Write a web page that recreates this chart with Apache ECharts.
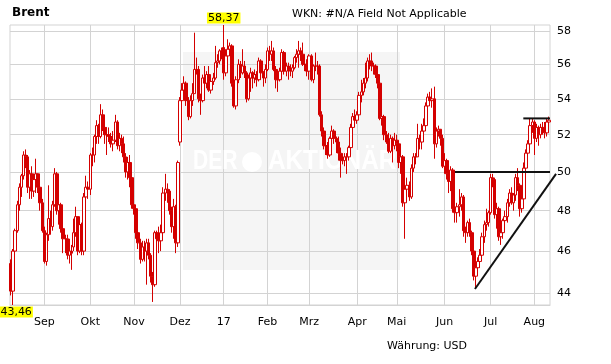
<!DOCTYPE html>
<html>
<head>
<meta charset="utf-8">
<script src="https://cdn.jsdelivr.net/npm/echarts@6/dist/echarts.min.js"></script>
<style>
html,body{margin:0;padding:0;background:#fff;}
#chart{width:611px;height:364px;}
</style>
</head>
<body>
<div id="chart"></div>
<script>
// ---- Data (Brent, daily OHLC rows: [open, close, low, high]) ----
const aug16 = [
[45.4,44.1,43.9,45.6],[44.1,46.0,43.46,46.1],[46.0,47.0,45.9,47.1],[47.0,48.3,46.9,48.5],
[48.3,49.2,48.0,49.4],[49.2,49.8,48.7,49.9],[49.8,50.9,49.6,51.1],[50.9,50.8,50.2,51.2],
[50.8,49.2,48.9,50.9],[49.2,49.9,48.6,50.1],[49.9,49.0,48.6,50.3],[49.0,49.6,48.7,49.9],
[49.6,49.9,48.9,50.7],[49.9,49.2,48.9,49.9],[49.2,48.4,48.0,49.3],[48.4,47.0,46.9,48.6]];
const sep16 = [
[47.0,45.5,45.4,47.2],[45.5,46.8,45.3,46.9],[46.8,47.6,46.5,49.3],[47.6,47.3,46.8,48.0],
[47.2,48.3,47.0,48.5],[48.3,49.9,48.2,50.2],[49.9,48.0,47.8,50.0],[48.0,48.3,47.3,48.6],
[48.3,47.1,46.9,48.4],[47.1,46.6,45.9,47.3],[46.6,46.6,45.9,46.8],[46.6,45.8,45.6,46.8],
[45.8,46.0,45.4,46.6],[46.0,45.9,45.1,46.3],[46.2,46.9,46.0,47.6],[46.9,47.7,46.7,48.2],
[47.7,46.0,45.8,47.7],[46.0,47.3,45.9,47.6],[47.3,46.0,45.8,47.4],[46.0,48.7,45.8,48.9],
[48.7,49.2,48.3,49.8],[49.2,49.1,48.6,49.5]];
const okt16 = [
[49.1,50.9,48.8,51.0],[50.9,50.9,50.3,51.3],[50.9,51.9,50.5,52.0],[51.9,52.5,51.5,52.8],
[52.5,51.9,51.5,52.6],[51.9,53.1,51.8,53.7],[53.1,52.4,52.2,53.4],[52.4,52.0,51.5,53.0],
[52.0,52.0,50.9,52.4],[52.0,51.9,51.6,52.4],[51.9,51.5,51.3,52.1],[51.5,51.7,51.1,52.2],
[51.7,52.7,51.6,53.1],[52.7,51.4,51.2,52.8],[51.4,51.8,51.1,52.1],[51.8,51.5,51.0,52.0],
[51.5,50.8,50.5,51.9],[50.8,50.0,49.7,51.0],[50.0,50.5,49.6,50.8],[50.5,49.7,49.2,50.9],
[49.7,48.3,48.1,49.9]];
const nov16 = [
[48.3,48.1,47.8,48.8],[48.1,46.9,46.6,48.2],[46.9,46.4,46.1,47.2],[46.4,45.6,45.4,46.6],
[45.6,46.2,45.5,46.5],[46.2,46.0,45.5,46.5],[46.0,46.4,44.4,46.6],[46.4,45.8,45.6,46.6],
[45.8,44.8,44.5,45.9],[44.8,44.4,43.6,45.0],[44.4,46.9,44.3,47.0],[46.9,46.6,46.2,47.0],
[46.6,46.5,45.9,47.2],[46.5,46.9,46.0,47.3],[46.9,48.9,46.8,49.2],[48.9,49.1,48.5,49.9],
[49.1,49.0,48.4,49.4],[49.0,48.0,47.8,49.1],[48.0,47.2,46.9,48.2],[47.2,48.2,46.6,48.6],
[48.2,46.4,45.9,48.3],[46.4,50.5,46.2,50.6]];
const dez16 = [
[51.6,53.9,51.4,54.1],[53.9,54.5,53.3,54.9],[54.5,54.9,54.2,55.3],[54.9,53.9,53.6,55.0],
[53.9,53.0,52.8,54.1],[53.0,53.9,52.9,54.2],[53.9,54.3,53.6,54.9],[54.3,55.7,54.3,57.9],
[55.7,55.7,55.4,56.4],[55.7,54.0,53.8,55.9],[54.0,53.9,53.1,54.3],[53.9,55.2,53.8,55.4],
[55.2,54.9,54.6,55.9],[54.9,55.4,54.6,55.6],[55.4,54.5,54.4,55.9],[54.5,55.0,54.3,55.3],
[55.0,55.2,54.8,55.5],[55.2,56.1,55.1,57.1],[56.1,56.2,55.8,56.6],[56.2,56.8,56.0,56.9],
[56.8,56.8,56.3,57.0]];
const jan17 = [
[57.0,55.5,55.1,58.37],[55.5,56.5,55.3,56.9],[56.5,56.9,56.2,57.5],[56.9,57.1,56.5,57.3],
[57.1,54.9,54.7,57.2],[54.9,53.6,53.5,55.2],[53.6,55.1,53.4,55.3],[55.1,56.0,54.9,56.3],
[56.0,55.5,55.2,56.2],[55.5,55.9,55.4,56.9],[55.9,55.5,55.2,56.2],[55.5,54.0,53.8,55.6],
[54.0,55.2,53.9,55.4],[55.2,55.5,54.4,55.8],[55.5,55.2,54.6,55.6],[55.2,55.4,54.9,55.7],
[55.4,55.1,54.7,55.6],[55.1,56.2,55.0,56.4],[56.2,55.5,55.1,56.3],[55.5,55.2,54.7,55.6],
[55.2,55.7,54.9,56.0]];
const feb17 = [
[55.7,56.8,55.6,57.0],[56.8,56.6,56.2,57.1],[56.6,56.8,56.2,57.4],[56.8,55.7,55.6,57.0],
[55.7,55.1,54.6,55.9],[55.1,55.1,54.4,55.4],[55.1,55.6,55.0,55.8],[55.6,56.7,55.5,56.9],
[56.7,55.6,55.4,56.8],[55.6,55.9,55.3,56.1],[55.9,55.7,55.1,56.1],[55.7,55.6,55.3,56.0],
[55.6,55.8,55.2,56.0],[55.8,56.4,55.7,56.5],[56.4,56.6,56.1,56.9],[56.6,56.8,55.8,57.4],
[56.8,56.6,56.2,57.0],[56.6,56.0,55.9,57.3],[56.0,56.0,55.6,56.5],[56.0,55.6,55.3,56.3]];
const mrz17 = [
[55.6,56.5,55.1,56.6],[56.5,55.1,55.0,56.6],[55.1,55.9,54.9,56.0],[55.9,55.9,55.6,56.7],
[55.9,55.9,55.4,56.2],[55.9,53.1,53.0,56.0],[53.1,52.2,51.9,53.3],[52.2,51.4,51.2,52.4],
[51.4,51.4,50.9,51.9],[51.4,50.9,50.7,51.6],[50.9,51.8,50.8,51.9],[51.8,52.2,51.6,52.5],
[52.2,51.8,51.5,52.3],[51.8,51.6,51.0,51.9],[51.6,51.0,50.6,51.9],[51.0,50.6,49.7,51.3],
[50.6,50.6,50.4,51.0],[50.6,50.8,50.3,51.0],[50.8,50.8,49.9,51.0],[50.8,51.3,50.6,51.4],
[51.3,52.4,51.2,52.6],[52.4,53.0,52.2,53.2],[53.0,52.8,52.5,53.4]];
const apr17 = [
[52.8,53.1,52.6,53.3],[53.1,54.2,53.0,54.4],[54.2,54.4,53.8,55.1],[54.4,54.9,54.2,55.2],
[54.9,55.2,54.6,56.1],[55.2,56.2,55.0,56.4],[56.2,56.2,55.7,56.6],[56.2,55.9,55.6,56.7],
[55.9,55.9,55.4,56.1],[55.9,55.4,55.2,56.0],[55.4,54.9,54.6,55.6],[54.9,52.9,52.8,55.1],
[52.9,53.0,52.5,53.3],[53.0,52.0,51.7,53.1],[52.0,51.6,51.5,52.2],[51.6,51.1,51.0,52.1],
[51.1,51.8,51.0,52.0],[51.8,51.4,50.5,51.9],[51.4,51.7,51.2,52.1]];
const mai17 = [
[51.7,51.5,51.1,52.0],[51.5,50.5,50.2,51.6],[50.5,50.8,49.9,51.0],[50.8,48.4,48.2,50.9],
[48.4,49.1,46.6,49.2],[49.1,49.3,48.6,49.7],[49.3,48.7,48.5,49.5],[48.7,50.2,48.6,50.4],
[50.2,50.8,50.0,51.0],[50.8,50.8,50.4,51.0],[50.8,51.8,50.8,52.6],[51.8,51.6,51.2,52.0],
[51.6,52.2,51.2,52.6],[52.2,52.5,51.7,52.9],[52.5,53.6,52.5,53.8],[53.6,54.1,53.5,54.3],
[54.1,53.9,53.6,54.4],[53.9,54.0,53.5,54.6],[54.0,51.5,50.7,54.7],[51.5,52.2,51.3,52.4],
[52.2,52.3,51.9,52.5],[52.3,51.8,51.4,52.3],[51.8,50.3,50.2,52.0]];
const jun17 = [
[50.3,50.6,49.9,51.0],[50.6,49.9,49.6,50.7],[49.9,49.5,48.9,50.2],[49.5,50.1,49.0,50.3],
[50.1,48.1,47.9,50.2],[48.1,47.9,47.4,48.3],[47.9,48.2,47.4,48.4],[48.2,48.3,47.7,49.1],
[48.3,48.7,48.0,48.9],[48.7,47.0,46.7,48.8],[47.0,46.9,46.4,47.2],[46.9,47.4,46.7,47.5],
[47.4,46.9,46.7,47.6],[46.9,46.0,45.8,47.0],[46.0,44.8,44.6,46.2],[44.8,45.2,44.2,45.5],
[45.2,45.5,44.9,45.7],[45.5,45.8,45.2,46.1],[45.8,46.7,45.6,46.9],[46.7,47.3,46.4,47.5],
[47.3,47.4,47.0,48.1],[47.4,47.9,47.2,48.0]];
const jul17 = [
[47.9,49.7,47.8,49.9],[49.7,49.6,49.2,49.9],[49.6,47.8,47.6,49.7],[47.8,48.1,47.1,48.4],
[48.1,46.7,46.5,48.2],[46.7,46.9,46.3,47.3],[46.9,47.5,46.6,47.6],[47.5,47.7,47.0,48.0],
[47.7,48.4,47.4,48.6],[48.4,48.9,48.2,49.1],[48.9,48.4,48.3,49.2],[48.4,48.8,48.0,48.9],
[48.8,49.7,48.5,49.9],[49.7,49.3,49.0,50.2],[49.3,48.1,47.7,49.4],[48.1,48.6,47.9,48.8],
[48.6,50.2,48.5,50.5],[50.2,51.0,50.1,51.2],[51.0,51.5,50.6,51.7],[51.5,52.5,51.3,52.9],
[52.5,52.7,52.1,52.9]];
const aug17 = [
[52.7,51.8,50.9,52.8],[51.8,52.4,51.6,52.6],[52.4,52.0,51.4,52.5],[52.0,52.4,51.8,52.6],
[52.4,52.4,52.0,52.7],[52.4,52.1,51.8,52.7],[52.1,52.7,51.9,52.9],[52.7,52.8,52.4,53.0]];

// Trading days (weekdays minus exchange holidays)
const firstDay = '2016-08-10';
const lastDay = '2017-08-10';
const holidays = ['2016-12-26', '2017-01-02', '2017-04-14'];
const monthLabels = ['17','Feb','Mrz','Apr','Mai','Jun','Jul','Aug','Sep','Okt','Nov','Dez'];
const yTicks = [44, 46, 48, 50, 52, 54, 56, 58];
const yMin = 43.46, yMax = 58.37;
// Drawn trend lines: [category position (day index), price]
const resistance50 = [[212.9, 50.0], [258.5, 50.0]];
const resistance53 = [[245.7, 52.9], [258.5, 52.9]];
const supportLine = [[222.5, 44.2], [261.4, 49.9]];

function buildTradingDays(start, end, skip) {
  const out = [];
  const d = new Date(start + 'T00:00:00Z');
  const e = new Date(end + 'T00:00:00Z');
  while (d <= e) {
    const wd = d.getUTCDay();
    const s = d.toISOString().slice(0, 10);
    if (wd !== 0 && wd !== 6 && skip.indexOf(s) < 0) out.push(s);
    d.setUTCDate(d.getUTCDate() + 1);
  }
  return out;
}
const categories = buildTradingDays(firstDay, lastDay, holidays);
const ohlc = [].concat(aug16, sep16, okt16, nov16, dez16, jan17, feb17, mrz17, apr17, mai17, jun17, jul17, aug17);
const N = categories.length;
function isMonthStart(i) {
  return i > 0 && categories[i].slice(5, 7) !== categories[i - 1].slice(5, 7);
}
const FONT = 'DejaVu Sans';
const RED = '#d40000';
const GRID = '#d3d3d3';
const fmt = v => v.toFixed(2).replace('.', ',');

// layout: main plot 10..550; overlay grid for drawn lines extends to 557 with the same day scale
const plotLeft = 10, plotRight = 61, overlayRight = 54, W = 611;
const mainWidth = W - plotLeft - plotRight;
const overlayWidth = W - plotLeft - overlayRight;
const overlayMax = -0.5 + N * overlayWidth / mainWidth;

const chart = echarts.init(document.getElementById('chart'), null, {renderer: 'canvas'});
const titleStyle = {fontFamily: FONT, fontSize: 11, fontWeight: 'normal', color: '#000'};
const wmFont = 'bold 27px "Liberation Sans", sans-serif';
const option = {
  animation: false,
  backgroundColor: '#fff',
  title: [
    {text: 'Brent', left: 12, top: 7, padding: 0, textStyle: {fontFamily: FONT, fontSize: 12, fontWeight: 'bold', color: '#000'}},
    {text: 'WKN: #N/A Field Not Applicable', left: 292, top: 9, padding: 0, textStyle: titleStyle},
    {text: 'Währung: USD', left: 387, top: 341, padding: 0, textStyle: titleStyle}
  ],
  graphic: [
    {type: 'rect', z: -1, shape: {x: 183, y: 52, width: 217, height: 218}, style: {fill: '#f5f5f5'}},
    {type: 'text', z: 1, x: 193, y: 162, scaleX: 0.78, style: {x: 0, y: 0, text: 'DER', fill: '#fff', font: wmFont, textVerticalAlign: 'middle'}},
    {type: 'circle', z: 1, shape: {cx: 252, cy: 162, r: 10}, style: {fill: '#fff'}},
    {type: 'text', z: 1, x: 268, y: 162, scaleX: 0.9, style: {x: 0, y: 0, text: 'AKTIONÄR', fill: '#fff', font: wmFont, textVerticalAlign: 'middle'}}
  ],
  grid: [
    {left: plotLeft, right: plotRight, top: 25, bottom: 59, show: true, borderColor: GRID, borderWidth: 1, backgroundColor: 'transparent'},
    {left: plotLeft, right: overlayRight, top: 25, bottom: 59, show: false}
  ],
  xAxis: [
    {
      type: 'category', data: categories, boundaryGap: true, gridIndex: 0,
      axisLine: {show: true, lineStyle: {color: GRID}},
      axisTick: {show: false},
      axisLabel: {
        interval: (i) => isMonthStart(i), margin: 12,
        fontFamily: FONT, fontSize: 11, color: '#000',
        formatter: (v) => monthLabels[(parseInt(v.slice(5, 7), 10) + 11) % 12]
      },
      splitLine: {show: true, interval: (i) => isMonthStart(i), alignWithLabel: true, lineStyle: {color: GRID, width: 1}}
    },
    {type: 'value', gridIndex: 1, min: -0.5, max: overlayMax, show: false}
  ],
  yAxis: [
    {
      type: 'log', logBase: 10, min: yMin, max: yMax, position: 'right', gridIndex: 0,
      axisLine: {show: false}, axisTick: {show: false, customValues: yTicks},
      axisLabel: {customValues: yTicks, margin: 7, fontFamily: FONT, fontSize: 11, color: '#000', formatter: v => String(Math.round(v))},
      splitLine: {show: true, lineStyle: {color: GRID, width: 1}}
    },
    {type: 'log', logBase: 10, min: yMin, max: yMax, gridIndex: 1, show: false}
  ],
  series: [
    {
      type: 'candlestick', name: 'Brent', data: ohlc, barWidth: 3, z: 3,
      itemStyle: {color: '#fff', color0: RED, borderColor: RED, borderColor0: RED, borderWidth: 1},
      markPoint: {
        symbol: 'rect', symbolSize: 1, itemStyle: {color: 'rgba(0,0,0,0)'},
        label: {
          show: true, formatter: p => fmt(p.value), backgroundColor: '#ffff00', color: '#000',
          fontFamily: FONT, fontSize: 11, lineHeight: 11, padding: [0, 1, 0, 1], distance: 1
        },
        data: [
          {type: 'max', valueDim: 'highest', label: {position: 'top'}},
          {type: 'min', valueDim: 'lowest', label: {position: 'bottom', offset: [3, 0]}}
        ]
      }
    },
    {type: 'line', xAxisIndex: 1, yAxisIndex: 1, data: resistance50, symbol: 'none', clip: false, silent: true, z: 4, lineStyle: {color: '#111', width: 2}},
    {type: 'line', xAxisIndex: 1, yAxisIndex: 1, data: resistance53, symbol: 'none', clip: false, silent: true, z: 4, lineStyle: {color: '#111', width: 2}},
    {type: 'line', xAxisIndex: 1, yAxisIndex: 1, data: supportLine, symbol: 'none', clip: false, silent: true, z: 4, lineStyle: {color: '#111', width: 2}}
  ]
};
chart.setOption(option);
if (ohlc.length !== N) console.error('length mismatch', ohlc.length, N);
</script>
</body>
</html>
